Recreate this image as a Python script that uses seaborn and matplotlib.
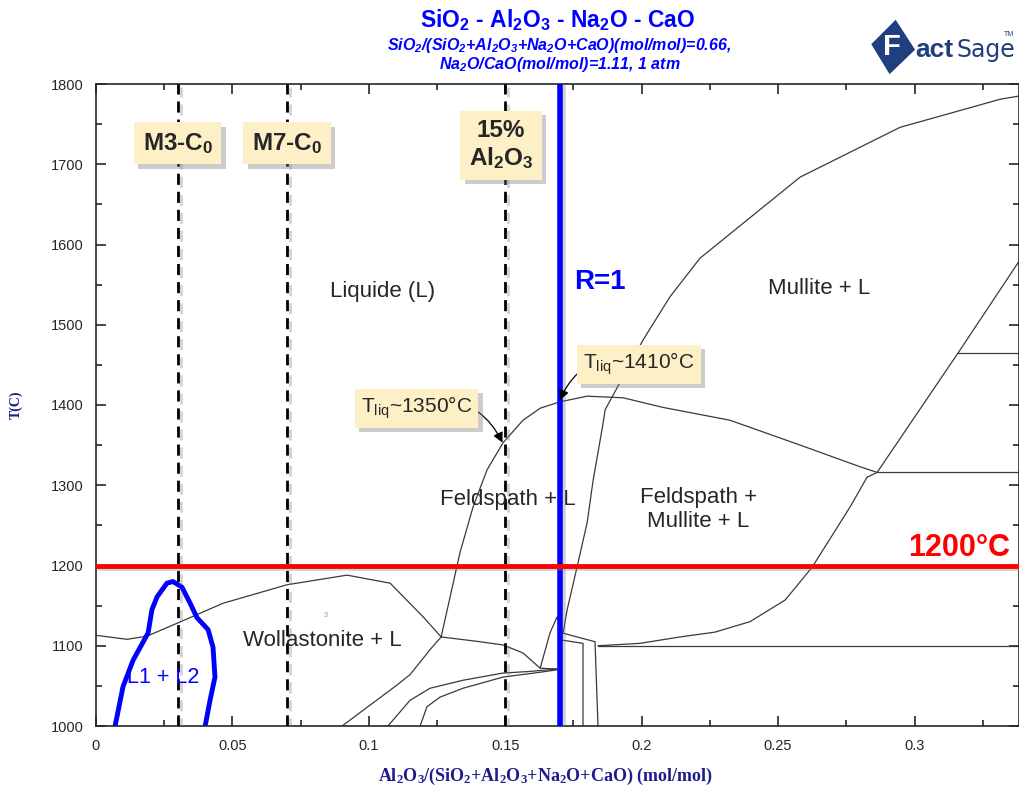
import matplotlib
matplotlib.use("Agg")
import matplotlib.pyplot as plt
import matplotlib.patheffects as pe
from matplotlib.patches import Polygon
from matplotlib.ticker import MultipleLocator, FixedLocator, FixedFormatter
import seaborn as sns

sns.set_style("ticks")
plt.rcParams['font.family'] = ['Liberation Sans', 'DejaVu Sans']
plt.rcParams['mathtext.fontset'] = 'custom'
plt.rcParams['mathtext.default'] = 'regular'

# -------- DATA (x = Al2O3 mol fraction, y = T in C) --------
x_ticks = [0, 0.05, 0.1, 0.15, 0.2, 0.25, 0.3]
x_tick_labels = ["0", "0.05", "0.1", "0.15", "0.2", "0.25", "0.3"]
y_ticks = [1000, 1100, 1200, 1300, 1400, 1500, 1600, 1700, 1800]

# two-liquid dome (L1 + L2)
l1l2_x = [0.0070, 0.0099, 0.0136, 0.0191, 0.0205, 0.0224, 0.0260, 0.0282, 0.0315,
          0.0345, 0.0370, 0.0411, 0.0429, 0.0436, 0.0418, 0.0400]
l1l2_t = [1000, 1049, 1082, 1116, 1145, 1161, 1178, 1180, 1173,
          1153, 1135, 1120, 1098, 1061, 1032, 1000]

# wollastonite liquidus
woll_x = [0.0, 0.0114, 0.0187, 0.0297, 0.0466, 0.0700, 0.0920, 0.1078, 0.1199, 0.1265]
woll_t = [1113, 1108, 1112, 1128, 1153, 1176, 1188, 1178, 1136, 1111]

# feldspath liquidus
feld_x = [0.1265, 0.1298, 0.1334, 0.1382, 0.1433, 0.1492, 0.1565, 0.1628, 0.1701,
          0.1800, 0.1932, 0.2078, 0.2324, 0.2581, 0.2801, 0.2863]
feld_t = [1111, 1161, 1216, 1273, 1319, 1353, 1381, 1396, 1404,
          1411, 1409, 1397, 1381, 1350, 1323, 1316]

# mullite liquidus
mull_x = [0.1712, 0.1727, 0.1763, 0.1800, 0.1822, 0.1859, 0.1866, 0.2005, 0.2104,
          0.2214, 0.2581, 0.2947, 0.3314, 0.3383]
mull_t = [1116, 1145, 1198, 1253, 1306, 1378, 1394, 1481, 1535,
          1583, 1684, 1746, 1781, 1785]

# feldspath + mullite + L lower boundary
fml_x = [0.1840, 0.1994, 0.2141, 0.2269, 0.2397, 0.2526, 0.2625, 0.2764, 0.2826, 0.2863]
fml_t = [1100, 1103, 1111, 1117, 1130, 1157, 1198, 1273, 1310, 1316]

# boundary above the 1316 C invariant
upper_x = [0.2863, 0.3160, 0.3383]
upper_t = [1316, 1465, 1579]

# isotherms
iso_x0 = [0.3160, 0.2863, 0.1840]
iso_t = [1465, 1316, 1100]

# low temperature boundaries
low1_x = [0.1265, 0.1224, 0.1151, 0.1103, 0.0902]
low1_t = [1111, 1095, 1064, 1051, 1000]
low2_x = [0.1265, 0.1408, 0.1492, 0.1565, 0.1628, 0.1690]
low2_t = [1111, 1105, 1101, 1091, 1072, 1071]
peak_x = [0.1628, 0.1664, 0.1690, 0.1708]
peak_t = [1072, 1116, 1136, 1116]
lowA_x = [0.1070, 0.1151, 0.1224, 0.1345, 0.1492, 0.1591, 0.1690]
lowA_t = [1000, 1032, 1047, 1057, 1066, 1068, 1071]
lowB_x = [0.1188, 0.1213, 0.1261, 0.1345, 0.1492, 0.1628, 0.1690]
lowB_t = [1000, 1024, 1036, 1047, 1061, 1067, 1070]
tie1_x = [0.1708, 0.1829, 0.1840]
tie1_t = [1116, 1105, 1000]
tie2_x = [0.1708, 0.1785, 0.1785]
tie2_t = [1107, 1103, 1000]

# compositions of interest
dashed_x = [0.03, 0.07, 0.15]
dashed_labels = ["M3-C$_0$", "M7-C$_0$", "15%\nAl$_2$O$_3$"]
r1_x = 0.17
t_line = 1200

phase_lines = [(woll_x, woll_t), (feld_x, feld_t), (mull_x, mull_t), (fml_x, fml_t),
               (upper_x, upper_t), (low1_x, low1_t), (low2_x, low2_t), (peak_x, peak_t),
               (lowA_x, lowA_t), (lowB_x, lowB_t), (tie1_x, tie1_t), (tie2_x, tie2_t)]

# -------- FIGURE --------
fig = plt.figure(figsize=(10.19, 7.89), dpi=100)
ax = fig.add_axes([96 / 1019, 1 - 726 / 789, (1019 - 96) / 1019, (726 - 84) / 789])

for xs, ts in phase_lines:
    sns.lineplot(x=xs, y=ts, sort=False, estimator=None, color="#3a3a3a", lw=0.9, ax=ax)
for x0, t in zip(iso_x0, iso_t):
    ax.plot([x0, 0.3383], [t, t], color="#3a3a3a", lw=0.9)

sh = [pe.SimpleLineShadow(offset=(2, -2), shadow_color="gray", alpha=0.35), pe.Normal()]

for xv in dashed_x:
    ax.axvline(xv, color="black", lw=2, ls=(0, (4, 2.5)), path_effects=sh, zorder=3)
ax.axvline(r1_x, color="#0000ff", lw=4, path_effects=sh, zorder=4)
ax.axhline(t_line, color="#ff0000", lw=3.5, path_effects=sh, zorder=4)

sns.lineplot(x=l1l2_x, y=l1l2_t, sort=False, estimator=None, color="#0000ff", lw=3.5, ax=ax)

ax.set_xlim(0, 0.3383)
ax.set_ylim(1000, 1800)
ax.xaxis.set_major_locator(FixedLocator(x_ticks))
ax.xaxis.set_major_formatter(FixedFormatter(x_tick_labels))
ax.xaxis.set_minor_locator(MultipleLocator(0.025))
ax.yaxis.set_major_locator(FixedLocator(y_ticks))
ax.yaxis.set_minor_locator(MultipleLocator(50))
ax.tick_params(which="both", direction="in", top=True, right=True, width=1.2, labelsize=10.5)
ax.tick_params(which="major", length=7)
ax.tick_params(which="minor", length=4)
ax.tick_params(axis="x", pad=9)
ax.tick_params(axis="y", pad=9)
for s in ax.spines.values():
    s.set_linewidth(1.2)

# -------- TEXT --------
ax.text(0.105, 1542, "Liquide (L)", fontsize=16, ha="center", va="center")
ax.text(0.265, 1545, "Mullite + L", fontsize=16, ha="center", va="center")
ax.text(0.1508, 1282, "Feldspath + L", fontsize=16, ha="center", va="center")
ax.text(0.2207, 1270, "Feldspath +\nMullite + L", fontsize=16, ha="center", va="center",
        linespacing=1.15)
ax.text(0.083, 1107, "Wollastonite + L", fontsize=16, ha="center", va="center")
ax.text(0.0245, 1061, "L1 + L2", fontsize=15.5, ha="center", va="center", color="#0000ff")
ax.text(0.084, 1138, "3", fontsize=5, ha="center", va="center", color="#999999")
ax.text(0.1845, 1553, "R=1", fontsize=20, fontweight="bold", ha="center", va="center",
        color="#0000ff")
ax.text(0.3165, 1222, "1200°C", fontsize=22, fontweight="bold", ha="center", va="center",
        color="#ff0000")

box = dict(boxstyle="square,pad=0.3", fc="#fdf0c6", ec="none")
box_fx = [pe.SimplePatchShadow(offset=(3, -3), shadow_rgbFace="gray", alpha=0.4), pe.Normal()]
label_t = [1726, 1726, 1724]
label_dx = [0.0, 0.0, -0.0015]
for xv, lab, t, dx in zip(dashed_x, dashed_labels, label_t, label_dx):
    tx = ax.text(xv + dx, t, lab, fontsize=17.5, fontweight="bold", ha="center", va="center",
                 bbox=dict(boxstyle="square,pad=0.35", fc="#fdf0c6", ec="none"),
                 zorder=6, linespacing=1.2)
    tx.get_bbox_patch().set_path_effects(box_fx)

a1 = ax.annotate("T$_{liq}$~1350°C", xy=(0.149, 1353), xytext=(0.1175, 1396),
                 fontsize=15, ha="center", va="center", bbox=box, zorder=6,
                 arrowprops=dict(arrowstyle="-|>", color="black", lw=0.9,
                                 connectionstyle="arc3,rad=-0.45", shrinkA=0, shrinkB=0))
a1.get_bbox_patch().set_path_effects(box_fx)
a2 = ax.annotate("T$_{liq}$~1410°C", xy=(0.1700, 1406), xytext=(0.199, 1451),
                 fontsize=15, ha="center", va="center", bbox=box, zorder=6,
                 arrowprops=dict(arrowstyle="-|>", color="black", lw=0.9,
                                 connectionstyle="arc3,rad=0.45", shrinkA=0, shrinkB=0))
a2.get_bbox_patch().set_path_effects(box_fx)

ax.set_xlabel("Al$_2$O$_3$/(SiO$_2$+Al$_2$O$_3$+Na$_2$O+CaO) (mol/mol)",
              fontfamily="Liberation Serif", fontweight="bold", fontsize=13, color="#1c1c8c")
ax.xaxis.set_label_coords(0.487, -0.062)
ax.set_ylabel("T(C)", fontfamily="Liberation Serif", fontweight="bold", fontsize=10,
              color="#1c1c8c")
ax.yaxis.set_label_coords(-0.079, 0.5)

fig.text(0.547, 0.974, "SiO$_2$ - Al$_2$O$_3$ - Na$_2$O - CaO", fontsize=16.5,
         fontweight="bold", color="#0000ff", ha="center", va="center")
fig.text(0.549, 0.930, "SiO$_2$/(SiO$_2$+Al$_2$O$_3$+Na$_2$O+CaO)(mol/mol)=0.66,\n"
         "Na$_2$O/CaO(mol/mol)=1.11, 1 atm", fontsize=11.5, fontweight="bold",
         fontstyle="italic", color="#0000ff", ha="center", va="center", linespacing=1.0)

# FactSage logo
navy = "#1f3f7f"
diamond = Polygon([(0.855, 0.944), (0.879, 0.975), (0.898, 0.937), (0.873, 0.906)],
                  closed=True, transform=fig.transFigure, fc=navy, ec="none")
fig.patches.append(diamond)
fig.text(0.867, 0.940, "F", fontsize=21, fontweight="bold", color="white",
         ha="left", va="center")
fig.text(0.898, 0.936, "act", fontsize=19, fontweight="bold", color=navy,
         ha="left", va="center")
fig.text(0.939, 0.936, "Sage", fontsize=17, color=navy, ha="left", va="center",
         fontfamily="Liberation Sans Narrow")
fig.text(0.985, 0.956, "TM", fontsize=5, color=navy, ha="left", va="center")

fig.savefig("out.png", dpi=100)
